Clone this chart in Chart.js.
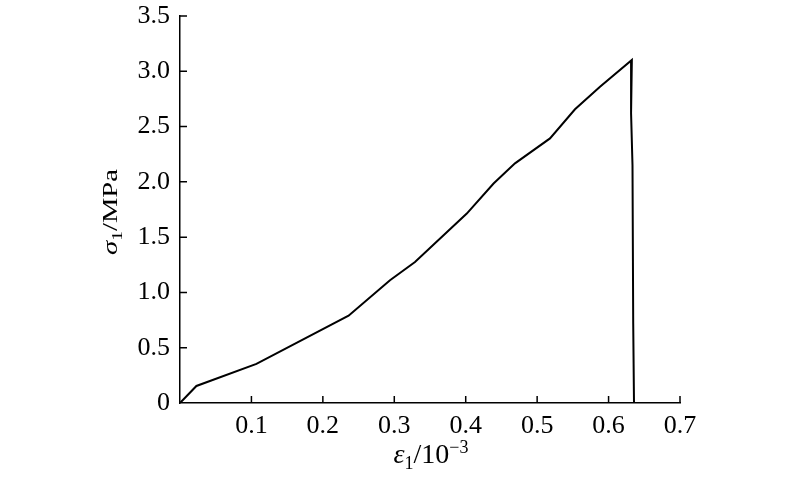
<!DOCTYPE html>
<html>
<head>
<meta charset="utf-8">
<script src="https://cdn.jsdelivr.net/npm/chart.js@4"></script>
<style>
  html, body { margin: 0; padding: 0; background: #fff; }
  #wrap { width: 800px; height: 478px; }
</style>
</head>
<body>
<div id="wrap"><canvas id="chart" width="800" height="478"></canvas></div>
<script>
// --- données ---
const strainValues = [0, 0.023, 0.107, 0.236, 0.294, 0.329, 0.4015, 0.439, 0.469, 0.518, 0.553, 0.588, 0.6326, 0.6315, 0.6335, 0.6345, 0.6356];
const stressValues = [0, 0.154, 0.354, 0.79, 1.11, 1.275, 1.713, 1.985, 2.167, 2.393, 2.656, 2.86, 3.103, 2.62, 2.15, 0.72, 0];
const xTicks = [0, 0.1, 0.2, 0.3, 0.4, 0.5, 0.6, 0.7];
const yTicks = [0, 0.5, 1.0, 1.5, 2.0, 2.5, 3.0, 3.5];

const FONT = '"Liberation Serif", "DejaVu Serif", serif';
const TICK_SIZE = 26;

const points = strainValues.map((x, i) => ({ x, y: stressValues[i] }));

// petites graduations tournées vers l'intérieur
const innerTicks = {
    id: 'innerTicks',
    afterDraw(chart) {
        const { ctx, scales: { x, y } } = chart;
        ctx.save();
        ctx.strokeStyle = '#000';
        ctx.lineWidth = 1.5;
        ctx.beginPath();
        xTicks.forEach(v => {
            if (v === 0) return;
            const px = x.getPixelForValue(v);
            ctx.moveTo(px, y.bottom);
            ctx.lineTo(px, y.bottom - 7);
        });
        yTicks.forEach(v => {
            if (v === 0) return;
            const py = y.getPixelForValue(v);
            ctx.moveTo(x.left, py);
            ctx.lineTo(x.left + 7, py);
        });
        ctx.stroke();
        ctx.restore();
    }
};

// titres des axes avec indices / exposants
const drawPieces = (ctx, pieces, cx, baseline) => {
    let total = 0;
    pieces.forEach(p => {
        ctx.font = p.font;
        p.w = ctx.measureText(p.text).width;
        total += p.w;
    });
    let pos = cx - total / 2;
    pieces.forEach(p => {
        ctx.font = p.font;
        ctx.fillText(p.text, pos, baseline + (p.dy || 0));
        pos += p.w;
    });
};

const axisTitles = {
    id: 'axisTitles',
    afterDraw(chart) {
        const { ctx, chartArea } = chart;
        ctx.save();
        ctx.fillStyle = '#000';
        ctx.textBaseline = 'alphabetic';
        ctx.textAlign = 'left';

        // axe x : ε1/10^-3
        drawPieces(ctx, [
            { text: 'ε', font: `italic 28px ${FONT}` },
            { text: '1', font: `18px ${FONT}`, dy: 6 },
            { text: '/10', font: `28px ${FONT}` },
            { text: '−3', font: `18px ${FONT}`, dy: -10 }
        ], (chartArea.left + chartArea.right) / 2 + 1, 463);

        // axe y : σ1/MPa
        ctx.translate(117, 212);
        ctx.rotate(-Math.PI / 2);
        ctx.scale(1.3, 1);
        drawPieces(ctx, [
            { text: 'σ', font: `italic 22px ${FONT}` },
            { text: '1', font: `15px ${FONT}`, dy: 5 },
            { text: '/MPa', font: `22px ${FONT}` }
        ], 0, 0);
        ctx.restore();
    }
};

new Chart(document.getElementById('chart'), {
    type: 'scatter',
    data: {
        datasets: [{
            data: points,
            showLine: true,
            borderColor: '#000',
            borderWidth: 2,
            pointRadius: 0,
            tension: 0,
            fill: false
        }]
    },
    options: {
        responsive: false,
        animation: false,
        events: [],
        layout: { padding: { left: 0, right: 120, top: 16, bottom: 0 } },
        plugins: {
            legend: { display: false },
            tooltip: { enabled: false }
        },
        scales: {
            x: {
                type: 'linear',
                min: 0,
                max: 0.7,
                afterFit: (scale) => {
                    scale.height = 75;
                    scale.paddingLeft = 0;
                    scale.paddingRight = 0;
                },
                afterBuildTicks: (scale) => { scale.ticks = xTicks.map(v => ({ value: v })); },
                grid: { display: false, drawTicks: false },
                border: { display: true, color: '#000', width: 1.5 },
                ticks: {
                    color: '#000',
                    padding: 8,
                    font: { family: FONT, size: TICK_SIZE },
                    callback: (v) => v === 0 ? '' : v.toFixed(1)
                }
            },
            y: {
                type: 'linear',
                min: 0,
                max: 3.5,
                afterFit: (scale) => {
                    scale.width = 180;
                    scale.paddingTop = 0;
                    scale.paddingBottom = 0;
                },
                afterBuildTicks: (scale) => { scale.ticks = yTicks.map(v => ({ value: v })); },
                grid: { display: false, drawTicks: false },
                border: { display: true, color: '#000', width: 1.5 },
                ticks: {
                    color: '#000',
                    padding: 10,
                    font: { family: FONT, size: TICK_SIZE },
                    callback: (v) => v === 0 ? '0' : v.toFixed(1)
                }
            }
        }
    },
    plugins: [innerTicks, axisTitles]
});
</script>
</body>
</html>
